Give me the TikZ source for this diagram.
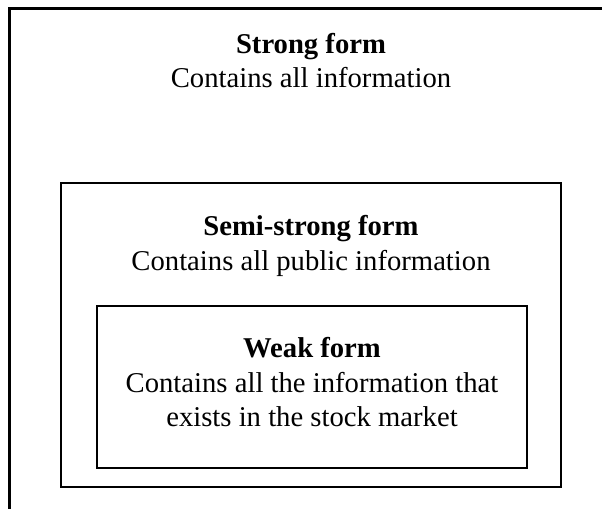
\documentclass[tikz,border=0pt]{standalone}
\usepackage{fontspec}
\setmainfont{Liberation Serif}
\usepackage{tikz}
\usetikzlibrary{positioning}
\tikzset{
  formbox/.style={rectangle, draw=black, line width=1.6pt, inner sep=0pt},
  formtext/.style={text centered, align=center, inner sep=0pt, font=\fontsize{21.5}{26}\selectfont}
}

\begin{document}
\begin{tikzpicture}[x=0.75pt, y=-0.75pt]
    \clip (0,0) rectangle (602,508);
    % nested boxes
    \node (Strong) [formbox, minimum width=603*0.75pt, minimum height=520*0.75pt] at (311,268.5) {};
    \node (Semi) [formbox, minimum width=500*0.75pt, minimum height=304*0.75pt] at (311,335) {};
    \node (Weak) [formbox, minimum width=430*0.75pt, minimum height=162*0.75pt] at (312,387) {};
    % texts
    \node (StrongText) [formtext, below=19pt of Strong.north]
        {\textbf{Strong form}\\Contains all information};
    \node (SemiText) [formtext, below=25pt of Semi.north]
        {\textbf{Semi-strong form}\\Contains all public information};
    \node (WeakText) [formtext, below=24pt of Weak.north]
        {\textbf{Weak form}\\Contains all the information that\\exists in the stock market};
\end{tikzpicture}
\end{document}
